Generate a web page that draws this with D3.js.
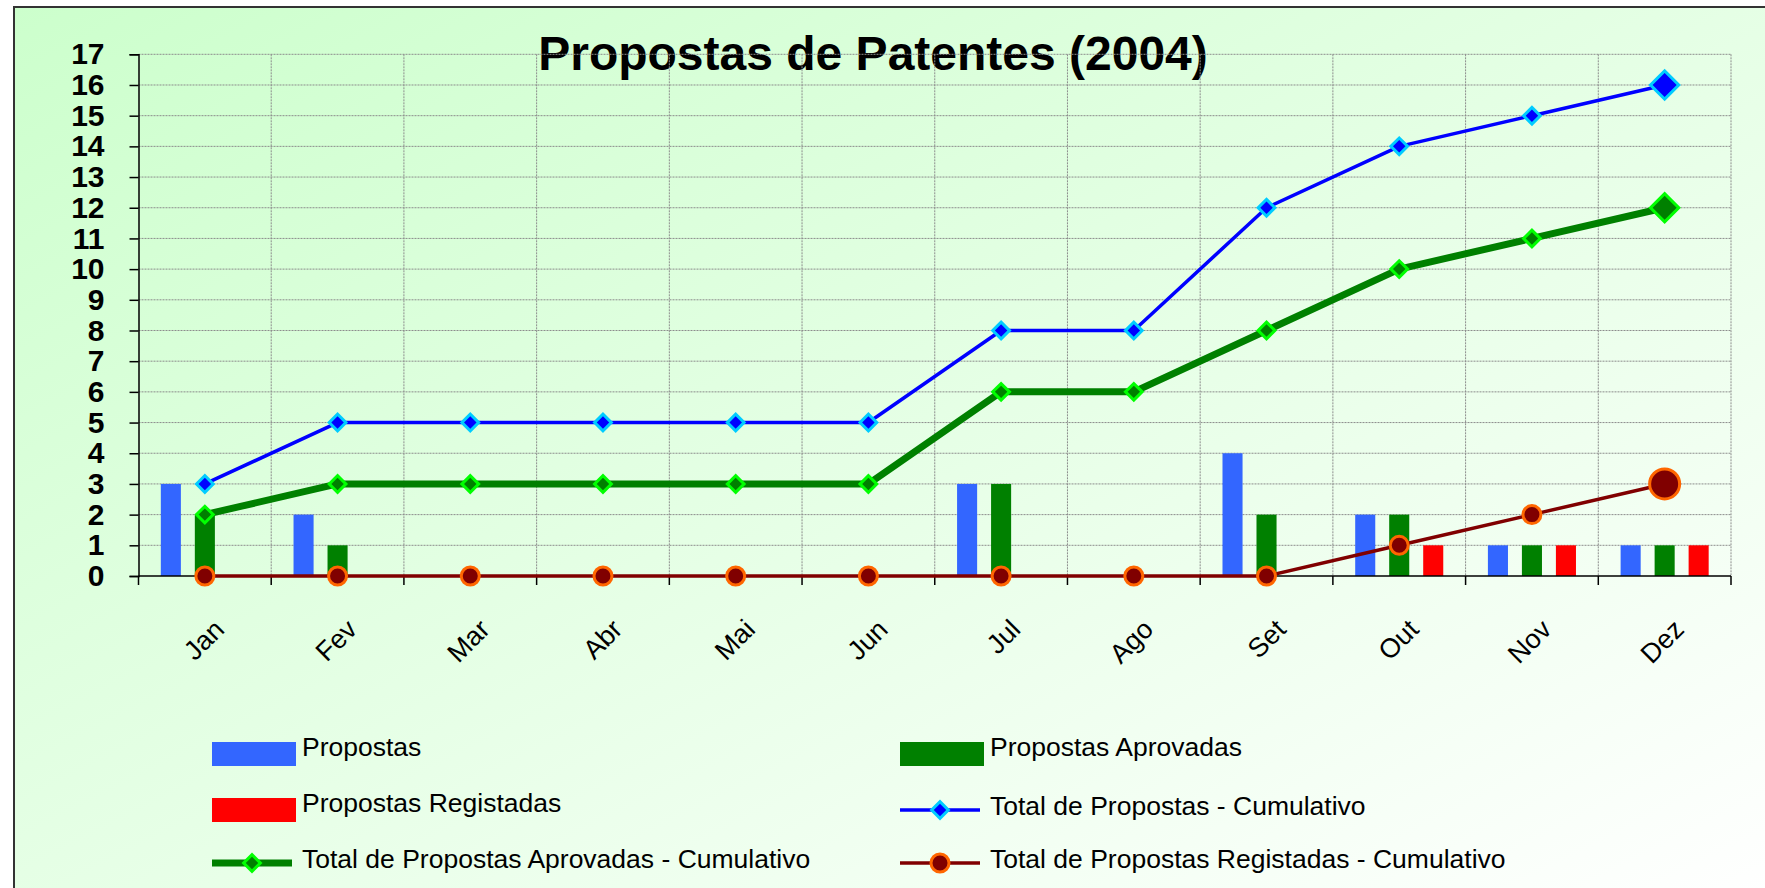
<!DOCTYPE html>
<html>
<head>
<meta charset="utf-8">
<script src="https://cdn.jsdelivr.net/npm/d3@7"></script>
<style>
  body { margin: 0; background: #fff; }
  svg { display: block; font-family: "Liberation Sans", Arial, sans-serif; }
</style>
</head>
<body>
<svg id="chart" width="1765" height="888"></svg>
<script>
var months = ["Jan", "Fev", "Mar", "Abr", "Mai", "Jun", "Jul", "Ago", "Set", "Out", "Nov", "Dez"];
var propostas  = [3, 2, 0, 0, 0, 0, 3, 0, 4, 2, 1, 1];
var aprovadas  = [2, 1, 0, 0, 0, 0, 3, 0, 2, 2, 1, 1];
var registadas = [0, 0, 0, 0, 0, 0, 0, 0, 0, 1, 1, 1];
var totalCum      = [3, 5, 5, 5, 5, 5, 8, 8, 12, 14, 15, 16];
var aprovadasCum  = [2, 3, 3, 3, 3, 3, 6, 6, 8, 10, 11, 12];
var registadasCum = [0, 0, 0, 0, 0, 0, 0, 0, 0, 1, 2, 3];
var yTicks = d3.range(0, 18);

var svg = d3.select("#chart");
var W = 1765, H = 888;

// background panel with diagonal gradient
var defs = svg.append("defs");
var grad = defs.append("linearGradient").attr("id", "bg")
  .attr("x1", 0).attr("y1", 0).attr("x2", 1).attr("y2", 1);
grad.append("stop").attr("offset", "0%").attr("stop-color", "#ccffcc");
grad.append("stop").attr("offset", "100%").attr("stop-color", "#ffffff");

svg.append("rect").attr("x", 14).attr("y", 7).attr("width", W).attr("height", H)
  .attr("fill", "url(#bg)").attr("stroke", "#333").attr("stroke-width", 2);

var plotLeft = 138.5, plotRight = 1731, plotTop = 54.3, plotBottom = 576;

var x0 = d3.scaleBand().domain(months).range([plotLeft, plotRight]);
var x1 = d3.scaleBand().domain(["p", "a", "r"])
  .range([x0.bandwidth() / 2 - 51, x0.bandwidth() / 2 + 51])
  .paddingInner(0.41).paddingOuter(0.205);
var y = d3.scaleLinear().domain([0, 17]).range([plotBottom, plotTop]);
var cx = function(i) { return x0(months[i]) + x0.bandwidth() / 2; };

// title
svg.append("text")
  .attr("x", 873).attr("y", 70)
  .attr("text-anchor", "middle")
  .style("font-size", "48px").style("font-weight", "bold")
  .text("Propostas de Patentes (2004)");

// gridlines
var grid = svg.append("g");
grid.selectAll("line.h").data(yTicks.slice(1)).enter().append("line")
  .attr("x1", plotLeft).attr("x2", plotRight)
  .attr("y1", function(d) { return y(d); }).attr("y2", function(d) { return y(d); })
  .attr("stroke", "#8c8c8c").attr("stroke-width", 1).attr("stroke-dasharray", "2,1");
var bounds = months.slice(1).map(function(m) { return x0(m); }).concat([plotRight]);
grid.selectAll("line.v").data(bounds).enter().append("line")
  .attr("x1", function(d) { return d; }).attr("x2", function(d) { return d; })
  .attr("y1", plotTop).attr("y2", plotBottom)
  .attr("stroke", "#8c8c8c").attr("stroke-width", 1).attr("stroke-dasharray", "2,1");

// bars
var barSeries = [
  { key: "p", values: propostas, color: "#3366ff" },
  { key: "a", values: aprovadas, color: "#008000" },
  { key: "r", values: registadas, color: "#ff0000" }
];
barSeries.forEach(function(s) {
  svg.append("g").selectAll("rect").data(s.values).enter().append("rect")
    .attr("x", function(d, i) { return x0(months[i]) + x1(s.key); })
    .attr("width", x1.bandwidth())
    .attr("y", function(d) { return y(d); })
    .attr("height", function(d) { return y(0) - y(d); })
    .attr("fill", s.color);
});

// axes
var yAxis = svg.append("g").attr("transform", "translate(" + plotLeft + ",0)")
  .call(d3.axisLeft(y).tickValues(yTicks).tickSize(9).tickPadding(25));
yAxis.select(".domain").attr("stroke", "#000").attr("stroke-width", 1.5);
yAxis.selectAll(".tick line").attr("stroke", "#000").attr("stroke-width", 1.5);
yAxis.selectAll(".tick text").style("font-size", "30px").style("font-weight", "bold")
  .style("font-family", "'Liberation Sans', Arial, sans-serif").attr("fill", "#000");

var xAxis = svg.append("g");
xAxis.append("line").attr("x1", plotLeft).attr("x2", plotRight).attr("y1", plotBottom).attr("y2", plotBottom)
  .attr("stroke", "#000").attr("stroke-width", 1.5);
xAxis.selectAll("line.t").data([plotLeft].concat(bounds)).enter().append("line")
  .attr("x1", function(d) { return d; }).attr("x2", function(d) { return d; })
  .attr("y1", plotBottom).attr("y2", plotBottom + 9)
  .attr("stroke", "#000").attr("stroke-width", 1.5);
xAxis.selectAll("text").data(months).enter().append("text")
  .attr("transform", function(d, i) { return "translate(" + (cx(i) + 21) + "," + 631 + ") rotate(-45)"; })
  .attr("text-anchor", "end")
  .style("font-size", "27px")
  .text(function(d) { return d; });

// lines and markers
var diamond = function(size) { return d3.symbol().type(d3.symbolSquare).size(size)(); };

function drawSeries(values, lineColor, lineWidth, markFill, markStroke, shape) {
  var g = svg.append("g");
  g.append("path").datum(values)
    .attr("fill", "none").attr("stroke", lineColor).attr("stroke-width", lineWidth)
    .attr("stroke-linejoin", "round")
    .attr("d", d3.line().x(function(d, i) { return cx(i); }).y(function(d) { return y(d); }));
  var last = values.length - 1;
  if (shape == "diamond") {
    g.selectAll("path.m").data(values).enter().append("path")
      .attr("d", function(d, i) { return diamond(i == last ? 400 : 140); })
      .attr("transform", function(d, i) { return "translate(" + cx(i) + "," + y(d) + ") rotate(45)"; })
      .attr("fill", markFill).attr("stroke", markStroke).attr("stroke-width", 3);
  } else {
    g.selectAll("circle").data(values).enter().append("circle")
      .attr("cx", function(d, i) { return cx(i); })
      .attr("cy", function(d) { return y(d); })
      .attr("r", function(d, i) { return i == last ? 15 : 9; })
      .attr("fill", markFill).attr("stroke", markStroke).attr("stroke-width", 3);
  }
}

drawSeries(registadasCum, "#800000", 3.5, "#800000", "#ff6600", "circle");
drawSeries(aprovadasCum, "#008000", 7, "#008000", "#00ff00", "diamond");
drawSeries(totalCum, "#0000ff", 3.5, "#0000ff", "#00ccff", "diamond");

// legend
var legendItems = [
  { label: "Propostas", type: "bar", color: "#3366ff" },
  { label: "Propostas Aprovadas", type: "bar", color: "#008000" },
  { label: "Propostas Registadas", type: "bar", color: "#ff0000" },
  { label: "Total de Propostas - Cumulativo", type: "line", color: "#0000ff", w: 3.5, fill: "#0000ff", stroke: "#00ccff", shape: "diamond" },
  { label: "Total de Propostas Aprovadas - Cumulativo", type: "line", color: "#008000", w: 7, fill: "#008000", stroke: "#00ff00", shape: "diamond" },
  { label: "Total de Propostas Registadas - Cumulativo", type: "line", color: "#800000", w: 3.5, fill: "#800000", stroke: "#ff6600", shape: "circle" }
];
var colX = [212, 900];
var rowY = [754, 810, 863];

legendItems.forEach(function(it, k) {
  var lx = colX[k % 2], ly = rowY[Math.floor(k / 2)];
  var g = svg.append("g").attr("transform", "translate(" + lx + "," + ly + ")");
  if (it.type == "bar") {
    g.append("rect").attr("x", 0).attr("y", -12).attr("width", 84).attr("height", 24).attr("fill", it.color);
  } else {
    g.append("line").attr("x1", 0).attr("x2", 80).attr("y1", 0).attr("y2", 0)
      .attr("stroke", it.color).attr("stroke-width", it.w);
    if (it.shape == "diamond") {
      g.append("path").attr("d", diamond(140)).attr("transform", "translate(40,0) rotate(45)")
        .attr("fill", it.fill).attr("stroke", it.stroke).attr("stroke-width", 3);
    } else {
      g.append("circle").attr("cx", 40).attr("cy", 0).attr("r", 9)
        .attr("fill", it.fill).attr("stroke", it.stroke).attr("stroke-width", 3);
    }
  }
  g.append("text").attr("x", 90).attr("y", it.type == "bar" ? 2 : 5)
    .style("font-size", "26.5px").text(it.label);
});
</script>
</body>
</html>
